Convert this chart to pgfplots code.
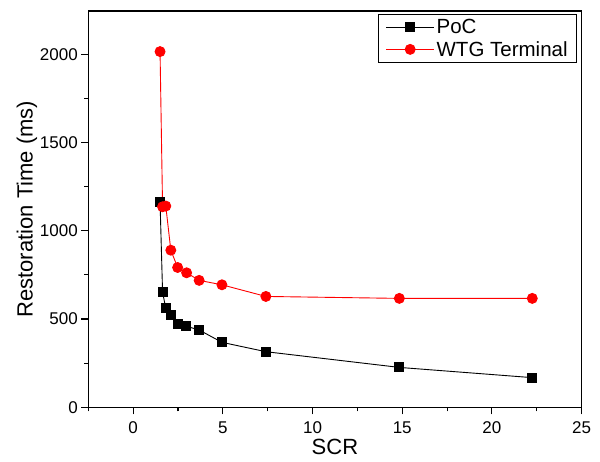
\documentclass[border=0pt]{standalone}
\usepackage{fontspec}
\setmainfont{Liberation Sans}
\usepackage{pgfplots}
\pgfplotsset{compat=1.18}
\begin{document}
\begin{tikzpicture}
\useasboundingbox (0pt,0pt) rectangle (600pt,461pt);
\begin{axis}[
  at={(88.3pt,53.7pt)}, anchor=south west,
  scale only axis,
  width=493.3pt, height=396.3pt,
  xmin=-2.5, xmax=25,
  ymin=0, ymax=2245,
  xtick={0,5,...,25},
  ytick={0,500,...,2000},
  minor xtick={-2.5,2.5,7.5,12.5,17.5,22.5},
  minor ytick={250,750,1250,1750},
  xtick pos=bottom, ytick pos=left,
  tick align=outside,
  major tick length=7pt, minor tick length=4pt,
  axis line style={line width=1.1pt},
  every tick/.style={line width=1.1pt, black},
  /pgf/number format/assume math mode=true,
  /pgf/number format/1000 sep={},
  tick label style={font=\fontsize{17}{20}\selectfont},
  xticklabel style={yshift=-4pt},
  xlabel={SCR}, ylabel={Restoration Time (ms)},
  label style={font=\fontsize{22}{26}\selectfont},
  xlabel style={yshift=1.5pt},
  ylabel style={yshift=-4pt},
  legend style={at={(rel axis cs:1,1)}, anchor=north east, xshift=-4.6pt, yshift=-3pt,
    font=\fontsize{20.5}{24}\selectfont, draw=black, line width=0.8pt,
    inner xsep=7pt, inner ysep=3pt, row sep=2pt},
  legend cell align=left,
  legend image code/.code={\draw[mark repeat=2,mark phase=2,#1] plot coordinates {(0pt,0pt) (24pt,0pt) (48pt,0pt)};},
]
\addplot[black, line width=0.9pt, mark=square*, mark size=4.5pt, mark options={solid}] coordinates {
  (1.50,1164) (1.64,653) (1.82,560) (2.10,522) (2.48,471) (2.94,460)
  (3.68,438) (4.95,368) (7.40,315) (14.84,226) (22.25,168)
};
\addlegendentry{PoC}
\addplot[red, line width=0.9pt, mark=*, mark size=5pt, mark options={solid}] coordinates {
  (1.50,2015) (1.64,1136) (1.82,1140) (2.10,890) (2.48,792) (2.98,762)
  (3.68,719) (4.95,694) (7.40,628) (14.84,617) (22.25,617)
};
\addlegendentry{WTG Terminal}
\end{axis}
\end{tikzpicture}
\end{document}
